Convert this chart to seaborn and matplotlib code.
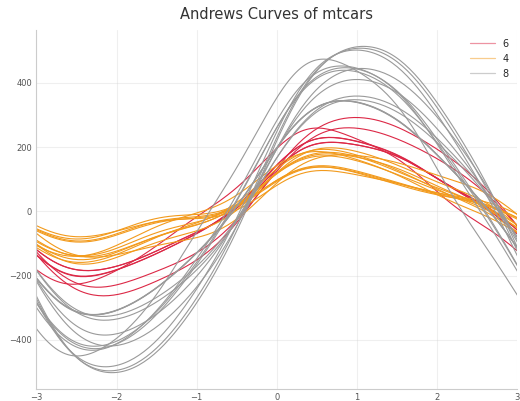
import numpy as np
import pandas as pd
import seaborn as sns
import matplotlib.pyplot as plt
from matplotlib.lines import Line2D

# mtcars (cyl is the class column)
mpg = [21.0, 21.0, 22.8, 21.4, 18.7, 18.1, 14.3, 24.4, 22.8, 19.2, 17.8, 16.4, 17.3, 15.2, 10.4, 10.4,
       14.7, 32.4, 30.4, 33.9, 21.5, 15.5, 15.2, 13.3, 19.2, 27.3, 26.0, 30.4, 15.8, 19.7, 15.0, 21.4]
cyl = [6, 6, 4, 6, 8, 6, 8, 4, 4, 6, 6, 8, 8, 8, 8, 8, 8, 4, 4, 4, 4, 8, 8, 8, 8, 4, 4, 4, 8, 6, 8, 4]
disp = [160.0, 160.0, 108.0, 258.0, 360.0, 225.0, 360.0, 146.7, 140.8, 167.6, 167.6, 275.8, 275.8, 275.8,
        472.0, 460.0, 440.0, 78.7, 75.7, 71.1, 120.1, 318.0, 304.0, 350.0, 400.0, 79.0, 120.3, 95.1, 351.0,
        145.0, 301.0, 121.0]
hp = [110, 110, 93, 110, 175, 105, 245, 62, 95, 123, 123, 180, 180, 180, 205, 215, 230, 66, 52, 65, 97,
      150, 150, 245, 175, 66, 91, 113, 264, 175, 335, 109]
drat = [3.90, 3.90, 3.85, 3.08, 3.15, 2.76, 3.21, 3.69, 3.92, 3.92, 3.92, 3.07, 3.07, 3.07, 2.93, 3.00,
        3.23, 4.08, 4.93, 4.22, 3.70, 2.76, 3.15, 3.73, 3.08, 4.08, 4.43, 3.77, 4.22, 3.62, 3.54, 4.11]
wt = [2.620, 2.875, 2.320, 3.215, 3.440, 3.460, 3.570, 3.190, 3.150, 3.440, 3.440, 4.070, 3.730, 3.780,
      5.250, 5.424, 5.345, 2.200, 1.615, 1.835, 2.465, 3.520, 3.435, 3.840, 3.845, 1.935, 2.140, 1.513,
      3.170, 2.770, 3.570, 2.780]
qsec = [16.46, 17.02, 18.61, 19.44, 17.02, 20.22, 15.84, 20.00, 22.90, 18.30, 18.90, 17.40, 17.60, 18.00,
        17.98, 17.82, 17.42, 19.47, 18.52, 19.90, 20.01, 16.87, 17.30, 15.41, 17.05, 18.90, 16.70, 16.90,
        14.50, 15.50, 14.60, 18.60]
vs = [0, 0, 1, 1, 0, 1, 0, 1, 1, 1, 1, 0, 0, 0, 0, 0, 0, 1, 1, 1, 1, 0, 0, 0, 0, 1, 0, 1, 0, 0, 0, 1]
am = [1, 1, 1, 0, 0, 0, 0, 0, 0, 0, 0, 0, 0, 0, 0, 0, 0, 1, 1, 1, 0, 0, 0, 0, 0, 1, 1, 1, 1, 1, 1, 1]
gear = [4, 4, 4, 3, 3, 3, 3, 4, 4, 4, 4, 3, 3, 3, 3, 3, 3, 4, 4, 4, 3, 3, 3, 3, 3, 4, 5, 5, 5, 5, 5, 4]
carb = [4, 4, 1, 1, 2, 1, 4, 2, 2, 4, 4, 3, 3, 3, 4, 4, 4, 1, 2, 1, 1, 2, 2, 4, 2, 1, 2, 2, 4, 6, 8, 2]
fast = [1, 1, 1, 1, 0, 0, 0, 1, 1, 0, 0, 0, 0, 0, 0, 0, 0, 1, 1, 1, 1, 0, 0, 0, 0, 1, 1, 1, 0, 0, 0, 1]
classes = ['6', '4', '8']

df = pd.DataFrame({'mpg': mpg, 'cyl': cyl, 'disp': disp, 'hp': hp, 'drat': drat, 'wt': wt,
                   'qsec': qsec, 'vs': vs, 'am': am, 'gear': gear, 'carb': carb, 'fast': fast})

# Andrews transform: f(t) = x1/sqrt(2) + x2 sin t + x3 cos t + x4 sin 2t + ...
t = np.linspace(-np.pi, np.pi, 200)
feats = df.drop(columns='cyl').to_numpy(dtype=float)
rows = []
for i, amp in enumerate(feats):
    y = amp[0] / np.sqrt(2.0) + np.zeros_like(t)
    coeffs = amp[1:].reshape(-1, 2)
    for k, (a, b) in enumerate(coeffs, start=1):
        y += a * np.sin(k * t) + b * np.cos(k * t)
    rows.append(pd.DataFrame({'t': t, 'value': y, 'car': i, 'cyl': str(cyl[i])}))
curves = pd.concat(rows, ignore_index=True)

sns.set_style('whitegrid')
plt.rcParams['font.family'] = ['DejaVu Sans']
fig, ax = plt.subplots(figsize=(5.2, 4.01), dpi=100)
palette = {'6': '#dc2846', '4': '#f29a1c', '8': '#9a9a9a'}
sns.lineplot(data=curves, x='t', y='value', hue='cyl', units='car', estimator=None,
             hue_order=classes, palette=palette, linewidth=0.8, ax=ax, legend=False)

for s in ['top', 'right']:
    ax.spines[s].set_visible(False)
for s in ['left', 'bottom']:
    ax.spines[s].set_color('#cccccc')
    ax.spines[s].set_linewidth(0.8)
ax.grid(alpha=0.3)
ax.set_xlim(-3, 3)
ax.set_xlabel('')
ax.set_ylabel('')
ax.tick_params(labelsize=6, colors='#555555', length=0, pad=3)
ax.set_title('Andrews Curves of mtcars', fontsize=10.5, color='#333333', pad=8)

# faded legend handles, as in the original
handles = [Line2D([], [], color=palette[c], alpha=0.5, linewidth=0.9) for c in classes]
ax.legend(handles, classes, frameon=False, fontsize=7, loc='upper right', handlelength=2.5)

plt.subplots_adjust(left=0.07, right=0.995, top=0.925, bottom=0.03)
plt.savefig('out.png')
